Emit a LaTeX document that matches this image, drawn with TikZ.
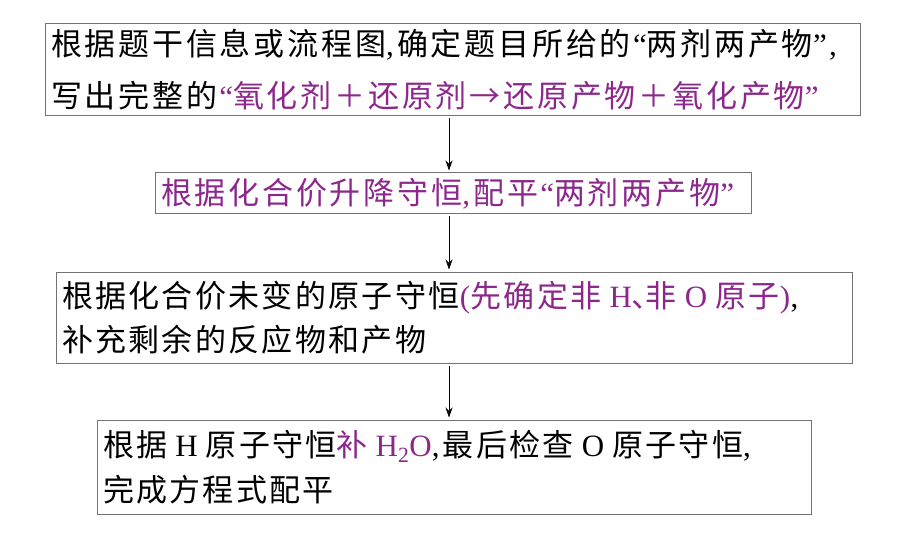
\documentclass[tikz,border=0pt]{standalone}
\usepackage{fontspec}
\setmainfont{Noto Sans CJK SC}[LetterSpace=9]
\newfontfamily\latin{Liberation Serif}
\usetikzlibrary{arrows.meta}
\definecolor{plum}{RGB}{140,40,140}
\newcommand{\hl}[1]{{\color{plum}#1}}
% narrow punctuation
\newcommand{\cm}{\makebox[11pt][l]{\latin,}}
\newcommand{\ql}{\makebox[16pt][r]{\latin “}}
\newcommand{\qr}{\makebox[16pt][l]{\latin ”}}
\newcommand{\dn}{\makebox[14pt][l]{、}}
\newcommand{\pl}{\makebox[11pt][c]{\latin(}}
\newcommand{\pr}{\makebox[11pt][c]{\latin)}}
\newcommand{\gap}{\hspace{8pt}}

\begin{document}
\begin{tikzpicture}[x=1pt,y=-1pt,
    stepbox/.style={
% The shape:
rectangle,
% The border:
draw=black!55, line width=1pt,
% The text:
align=left, inner xsep=6pt, inner ysep=0pt,
},
    flow/.style={-{Stealth[length=10pt,width=7pt]}, line width=0.7pt,
                 shorten <=2pt, shorten >=2pt},
]
  \useasboundingbox (0,0) rectangle (913,556);
  \coordinate (axis) at (449,0);

  \node[stepbox, text width=803pt, minimum height=92pt,
        font=\fontsize{31}{52}\selectfont]
    (b1) at (452.5,70)
    {根据题干信息或流程图\cm 确定题目所给的\ql 两剂两产物\qr\cm\\
     写出完整的\hl{\ql 氧化剂＋还原剂→还原产物＋氧化产物\qr}};
  \node[stepbox, text width=584pt, minimum height=41pt,
        font=\fontsize{31}{40}\selectfont]
    (b2) at (453,193.5)
    {\hl{根据化合价升降守恒\cm 配平\ql 两剂两产物\qr}};
  \node[stepbox, text width=784pt, minimum height=91pt,
        font=\fontsize{31}{44}\selectfont\addfontfeature{LetterSpace=7.5}]
    (b3) at (454,317.5)
    {根据化合价未变的原子守恒\hl{\pl 先确定非\gap{\latin H}\dn 非\gap{\latin O}\gap 原子\pr}\cm\\
     补充剩余的反应物和产物};
  \node[stepbox, text width=702pt, minimum height=94pt,
        font=\fontsize{31}{45}\selectfont\addfontfeature{LetterSpace=7.5}]
    (b4) at (454,467)
    {根据\gap{\latin H}\gap 原子守恒\hl{补\gap{\latin H\textsubscript{2}O}}\cm 最后检查\gap{\latin O}\gap 原子守恒\cm\\
     完成方程式配平};

  \draw [flow] (b1.south -| axis) -- (b2.north -| axis);
  \draw [flow] (b2.south -| axis) -- (b3.north -| axis);
  \draw [flow] (b3.south -| axis) -- (b4.north -| axis);
\end{tikzpicture}
\end{document}
